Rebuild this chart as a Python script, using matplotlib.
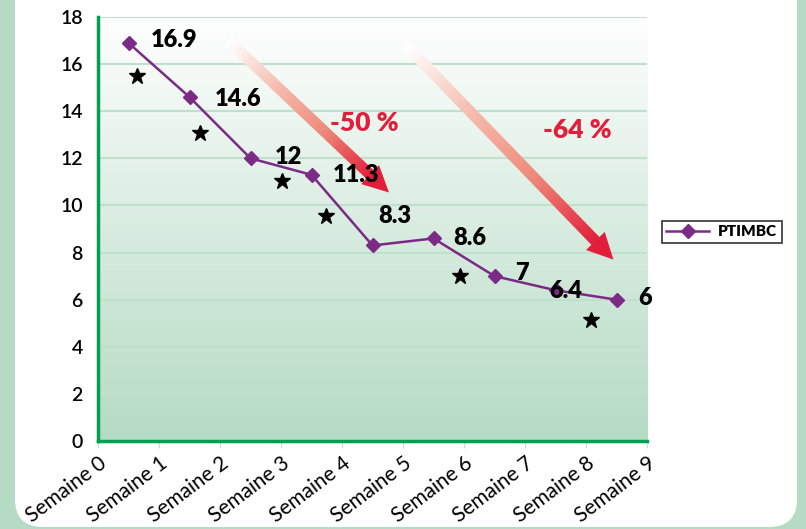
import numpy as np
import matplotlib.pyplot as plt
from matplotlib.colors import LinearSegmentedColormap
from matplotlib.patches import FancyBboxPatch, Polygon
from matplotlib.lines import Line2D

plt.rcParams['font.family'] = ['Lato', 'DejaVu Sans']

semaines = ['Semaine %d' % i for i in range(10)]
ptimbc = [16.9, 14.6, 12, 11.3, 8.3, 8.6, 7, 6.4, 6]
star_x = [0.64, 1.68, 3.01, 3.73, 5.94, 8.09]
star_y = [15.5, 13.07, 11.04, 9.55, 7.0, 5.14]
# (start x, start y, tip x, tip y, text, text x, text y)
fleches = [
    (2.14, 17.0, 4.77, 10.55, '-50 %', 4.36, 13.5),
    (5.05, 16.8, 8.45, 7.7, '-64 %', 7.85, 13.2),
]

purple = '#7b2a85'
green_bg = '#b5dbc5'
red = '#e31e3a'

fig = plt.figure(figsize=(8.06, 5.29), dpi=100, facecolor=green_bg)
panel = FancyBboxPatch((15, 2), 782, 560, boxstyle='round,pad=0,rounding_size=28',
                       transform=None, facecolor='white', edgecolor='none', zorder=0)
fig.add_artist(panel)

ax = fig.add_axes([98 / 806, 88 / 529, 549 / 806, 424 / 529])
ax.set_xlim(0, 9)
ax.set_ylim(0, 18)

# fond degrade
cmap = LinearSegmentedColormap.from_list('fond', ['#b5dbc5', '#d8ece0', '#ffffff'])
grad = np.linspace(0, 1, 256).reshape(-1, 1)
ax.imshow(grad, extent=[0, 9, 0, 18], aspect='auto', origin='lower', cmap=cmap, zorder=0)

for yv in range(2, 19, 2):
    ax.axhline(yv, color='#bfe0cc', lw=1.5, zorder=1)

xs = np.arange(len(ptimbc)) + 0.5
ax.plot(xs, ptimbc, color=purple, lw=1.8, marker='D', markersize=7, zorder=4)
ax.plot(star_x, star_y, ls='none', marker='*', color='black', markersize=12, zorder=4)

# decalages des etiquettes en pixels
offsets_px = [(22, 3), (25, -2), (24, 1), (21, 0), (6, 29), (20, 0), (21, 3), (-6, -1), (22, 2)]
for x, v, off in zip(xs, ptimbc, offsets_px):
    ax.annotate('%g' % v, (x, v), xytext=(off[0] * 0.72, off[1] * 0.72), textcoords='offset points',
                fontsize=17, fontweight='heavy', va='center', ha='left', zorder=5)

# fleches a degrade
fig.canvas.draw()
arrow_cmap = LinearSegmentedColormap.from_list('fl', ['#ffffff', '#f6bcae', '#ee8a7a', red])
for x0, y0, x1, y1, txt, tx, ty in fleches:
    p0 = ax.transData.transform((x0, y0))
    p1 = ax.transData.transform((x1, y1))
    d = p1 - p0
    L = np.hypot(*d)
    u = d / L
    n = np.array([-u[1], u[0]])
    head_len = 26
    base = p1 - u * head_len
    n_seg = 80
    for i in range(n_seg):
        a = p0 + d * (L - head_len) / L * i / n_seg
        b = p0 + d * (L - head_len) / L * (i + 1.2) / n_seg
        A = ax.transData.inverted().transform(a)
        B = ax.transData.inverted().transform(b)
        ax.plot([A[0], B[0]], [A[1], B[1]], color=arrow_cmap(i / n_seg), lw=8,
                solid_capstyle='butt', zorder=3)
    pts = [p1, base + n * 13, base - n * 13]
    pts = ax.transData.inverted().transform(pts)
    ax.add_patch(Polygon(pts, closed=True, facecolor=red, edgecolor='none', zorder=3))
    ax.text(tx, ty, txt, color=red, fontsize=19, fontweight='heavy', ha='center', va='center', zorder=5)

ax.set_yticks(range(0, 19, 2))
ax.set_xticks(range(10))
ax.set_xticklabels(semaines, rotation=37, ha='right', rotation_mode='anchor', fontsize=15)
ax.tick_params(axis='y', length=0, labelsize=14, pad=11)
ax.tick_params(axis='x', length=5, color='#bfe0cc', pad=4)
for lab in ax.get_yticklabels():
    lab.set_fontweight('semibold')
for s in ['top', 'right']:
    ax.spines[s].set_visible(False)
for s in ['left', 'bottom']:
    ax.spines[s].set_color('#00a050')
    ax.spines[s].set_linewidth(2.5)

handle = Line2D([], [], color=purple, lw=1.8, marker='D', markersize=7)
leg = fig.legend([handle], ['PTIMBC'], loc='center left', bbox_to_anchor=(654 / 806, 1 - 232 / 529),
                 frameon=True, fancybox=False, edgecolor='black', prop={'weight': 'heavy', 'size': 11},
                 handlelength=2.8, borderpad=0.3, handletextpad=0.6)
leg.get_frame().set_linewidth(1.2)

fig.savefig('out.png', dpi=100, facecolor=green_bg)
